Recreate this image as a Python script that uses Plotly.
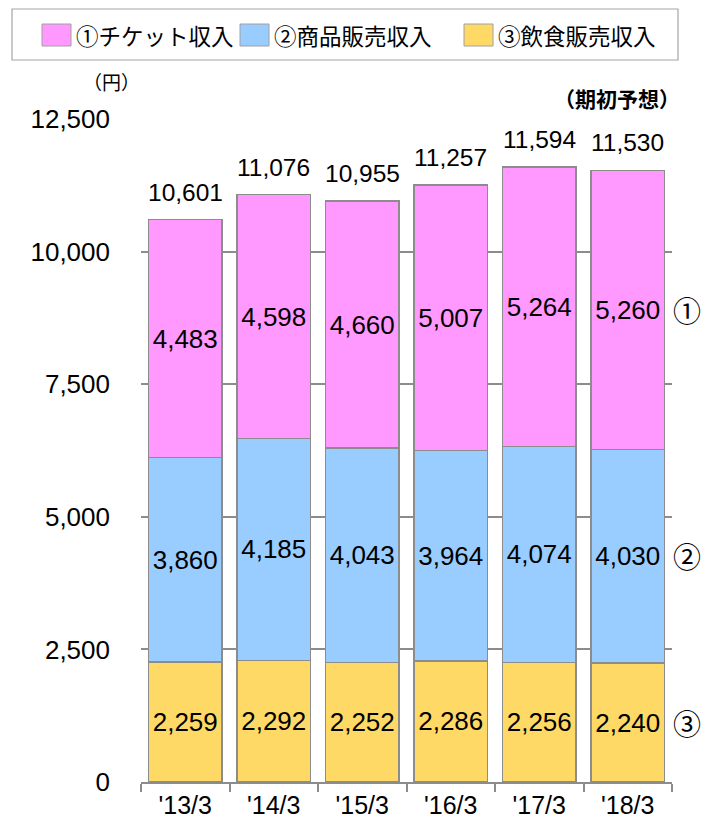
import plotly.graph_objects as go

categories = ["'13/3", "'14/3", "'15/3", "'16/3", "'17/3", "'18/3"]
ticket = [4483, 4598, 4660, 5007, 5264, 5260]
goods = [3860, 4185, 4043, 3964, 4074, 4030]
food = [2259, 2292, 2252, 2286, 2256, 2240]
totals = [10601, 11076, 10955, 11257, 11594, 11530]
series_names = ["①チケット収入", "②商品販売収入", "③飲食販売収入"]
circle_marks = ["①", "②", "③"]
y_ticks = [0, 2500, 5000, 7500, 10000, 12500]

colors = {"ticket": "#FF99FF", "goods": "#99CCFF", "food": "#FFD966"}
FONT = "Liberation Sans, Arial, Noto Sans CJK JP, sans-serif"
JFONT = "Noto Sans CJK JP, Liberation Sans, sans-serif"
EDGE = "#8c8c8c"

W, H = 716, 825
ML, MR, MT, MB = 141, 44, 119, 43
PW = W - ML - MR
PH = H - MT - MB


def px(x):
    return (x - ML) / PW


def py(y):
    return (H - MB - y) / PH


fig = go.Figure()
for name, vals, key in [
    (series_names[2], food, "food"),
    (series_names[1], goods, "goods"),
    (series_names[0], ticket, "ticket"),
]:
    fig.add_trace(go.Bar(
        x=categories, y=vals, name=name,
        marker=dict(color=colors[key], line=dict(color=EDGE, width=1.5)),
        text=[f"{v:,}" for v in vals],
        textposition="inside", insidetextanchor="middle",
        textangle=0, constraintext="none",
        textfont=dict(family=FONT, size=26, color="black"),
        showlegend=False, hoverinfo="skip",
    ))

annotations = []
# totals above bars
for c, t in zip(categories, totals):
    annotations.append(dict(
        x=c, y=t, xref="x", yref="y", text=f"{t:,}", showarrow=False,
        yanchor="bottom", yshift=12,
        font=dict(family=FONT, size=24.5, color="black"),
    ))

# circled markers at the right of the last bar
mids = [
    food[-1] + goods[-1] + ticket[-1] / 2,
    food[-1] + goods[-1] / 2,
    food[-1] / 2,
]
for m, yv in zip(circle_marks, mids):
    annotations.append(dict(
        x=px(687), y=yv, xref="paper", yref="y", text=m, showarrow=False,
        xanchor="center", yanchor="middle",
        font=dict(family=JFONT, size=28, color="black"),
    ))

annotations.append(dict(
    x=px(111), y=py(82), xref="paper", yref="paper", text="（円）",
    showarrow=False, xanchor="center", yanchor="middle",
    font=dict(family=JFONT, size=19, color="black"),
))
annotations.append(dict(
    x=px(682), y=py(98), xref="paper", yref="paper", text="<b>（期初予想）</b>",
    showarrow=False, xanchor="right", yanchor="middle",
    font=dict(family=JFONT, size=21, color="black"),
))

shapes = []
# custom legend
shapes.append(dict(
    type="rect", xref="paper", yref="paper",
    x0=px(12), x1=px(678), y0=py(60), y1=py(9),
    line=dict(color="#a6a6a6", width=1.2), fillcolor="white", layer="above",
))
legend_items = [
    (series_names[0], colors["ticket"], 42, 76),
    (series_names[1], colors["goods"], 240, 274),
    (series_names[2], colors["food"], 464, 498),
]
for name, col, sx, tx in legend_items:
    shapes.append(dict(
        type="rect", xref="paper", yref="paper",
        x0=px(sx), x1=px(sx + 29), y0=py(46), y1=py(24),
        line=dict(color="#a0a0a0", width=1), fillcolor=col, layer="above",
    ))
    annotations.append(dict(
        x=px(tx), y=py(35), xref="paper", yref="paper", text=name,
        showarrow=False, xanchor="left", yanchor="middle", xshift=-2,
        font=dict(family=JFONT, size=22.5, color="black"),
    ))

fig.update_layout(
    width=W, height=H,
    margin=dict(l=ML, r=MR, t=MT, b=MB, autoexpand=False),
    barmode="stack", bargap=0.175,
    plot_bgcolor="white", paper_bgcolor="white",
    annotations=annotations, shapes=shapes,
    showlegend=False,
    font=dict(family=FONT, color="black"),
)
fig.update_xaxes(
    showline=True, linecolor=EDGE, linewidth=1.5,
    ticks="outside", tickson="boundaries", ticklen=8, tickcolor=EDGE, tickwidth=1.5,
    tickfont=dict(family=FONT, size=25, color="black"),
    showgrid=False,
)
fig.update_yaxes(
    range=[0, 12500], tickvals=y_ticks,
    ticktext=[f"{v:,}" for v in y_ticks],
    showgrid=True, gridcolor=EDGE, gridwidth=1.5,
    zeroline=False, showline=False, ticks="",
    ticklabelstandoff=30,
    tickfont=dict(family=FONT, size=26, color="black"),
)

fig.write_html(
    "out.html",
    config={"displayModeBar": False},
    post_script="document.body.style.margin='0';document.body.style.overflow='hidden';",
)
